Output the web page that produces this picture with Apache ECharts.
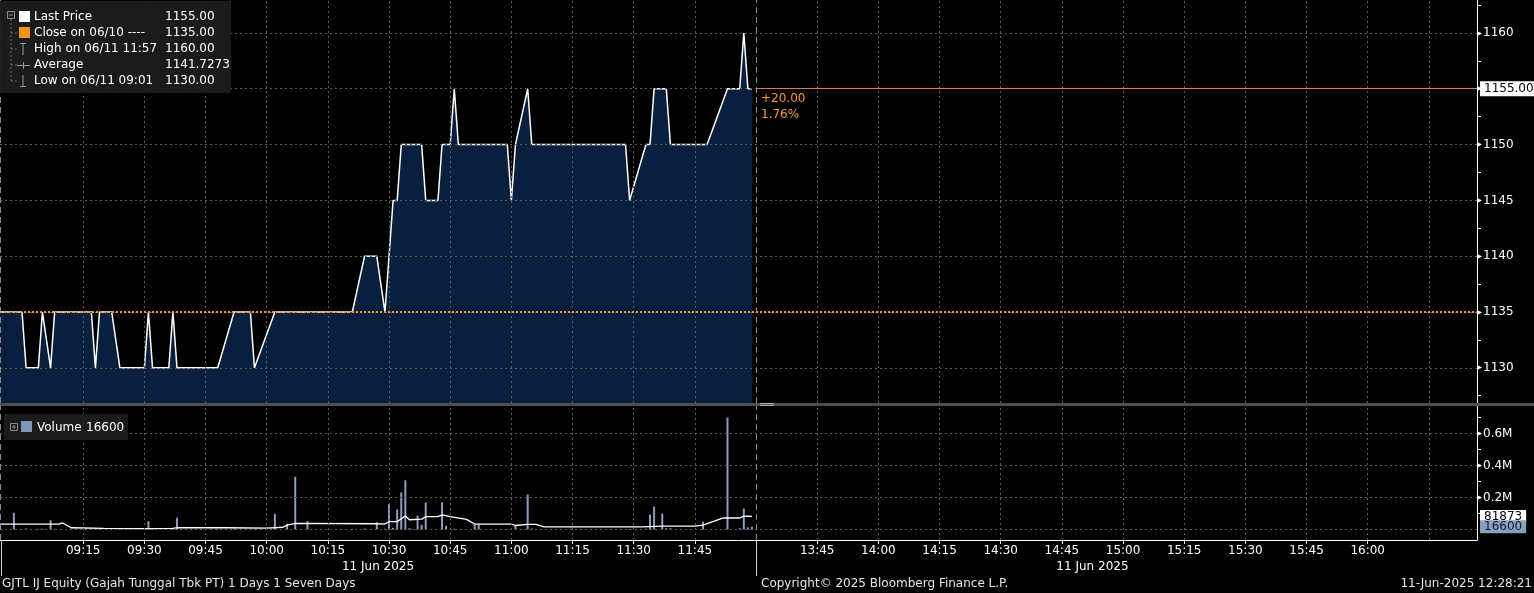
<!DOCTYPE html>
<html><head><meta charset="utf-8">
<script src="https://cdn.jsdelivr.net/npm/echarts@6/dist/echarts.min.js"></script>
<style>html,body{margin:0;padding:0;background:#000;}#c{width:1534px;height:593px;}</style>
</head><body><div id="c"></div><script>
// ---------- DATA ----------
const priceTimes = ['08:54','09:00','09:01','09:04','09:05','09:07','09:08','09:17','09:18','09:19','09:22','09:24','09:30','09:31','09:32','09:36','09:37','09:38','09:48','09:52','09:56','09:57','10:02','10:21','10:24','10:27','10:29','10:31','10:32','10:33','10:38','10:39','10:42','10:43','10:45','10:46','10:47','10:59','11:00','11:01','11:04','11:05','11:28','11:29','11:33','11:34','11:35','11:38','11:39','11:48','11:53','11:56','11:57','11:58','11:59'];
const priceValues = [1135,1135,1130,1130,1135,1130,1135,1135,1130,1135,1135,1130,1130,1135,1130,1130,1135,1130,1130,1135,1135,1130,1135,1135,1140,1140,1135,1145,1145,1150,1150,1145,1145,1150,1150,1155,1150,1150,1145,1150,1155,1150,1150,1145,1150,1150,1155,1155,1150,1150,1155,1155,1160,1155,1155];

const volumeTimes = ['08:58','09:01','09:04','09:05','09:07','09:08','09:17','09:18','09:19','09:24','09:31','09:32','09:37','09:38','09:48','09:52','09:57','10:02','10:05','10:07','10:10','10:21','10:24','10:27','10:29','10:30','10:31','10:32','10:33','10:34','10:35','10:36','10:37','10:38','10:39','10:43','10:44','10:46','10:51','10:52','10:59','11:01','11:04','11:05','11:29','11:33','11:34','11:35','11:37','11:38','11:39','11:47','11:53','11:56','11:57','11:58','11:59'];
const volumeValues = [104000,6000,4000,5000,58000,4000,3000,5000,3000,4000,52000,3000,4000,73000,3000,5000,4000,98000,35000,329000,52000,4000,6000,45000,5000,158000,10000,125000,232000,308000,8000,3000,87000,30000,169000,169000,23000,5000,32000,32000,4000,23000,219000,6000,4000,5000,93000,143000,99000,8000,8000,49000,700000,8000,131000,13000,16600];

const volAvgTimes = ['08:54','09:09','09:10','09:12','09:20','09:30','09:37','09:38','09:50','10:00','10:04','10:05','10:07','10:27','10:29','10:30','10:32','10:34','10:35','10:38','10:39','10:42','10:43','10:45','10:49','10:51','11:00','11:01','11:04','11:06','11:08','11:32','11:37','11:45','11:47','11:52','11:56','11:57','11:59'];
const volAvgValues = [33000,33000,41000,11000,7000,6000,7000,12000,11000,9000,14000,27000,38000,36000,34000,49000,49000,84000,61000,65000,80000,80000,91000,80000,63000,34000,34000,25000,32000,32000,16000,16000,21000,21000,27000,72000,72000,84000,81873];

const timeLabels = ['09:15','09:30','09:45','10:00','10:15','10:30','10:45','11:00','11:15','11:30','11:45','13:45','14:00','14:15','14:30','14:45','15:00','15:15','15:30','15:45','16:00'];
const timeGrid = ['09:15','09:30','09:45','10:00','10:15','10:30','10:45','11:00','11:15','11:30','11:45','13:45','14:00','14:15','14:30','14:45','15:00','15:15','15:30','15:45','16:00','16:15'];
const sessionBreak = '13:30';
const sessionEnd = '16:15';
const priceTicks = [1130,1135,1140,1145,1150,1155,1160];
const priceMinorTicks = [1127.5,1132.5,1137.5,1142.5,1147.5,1152.5,1157.5,1162.5];
const volumeTicks = [200000,400000,600000];
const volumeMinorTicks = [100000,300000,500000,700000];
const volumeGrid = [0,200000,400000,600000];

const legendNames = ['Last Price','Close on 06/10 ----','High on 06/11 11:57','Average','Low on 06/11 09:01'];
const legendValues = ['1155.00','1135.00','1160.00','1141.7273','1130.00'];
const lastPrice = 1155;
const prevClose = 1135;
const changeLabels = ['+20.00','1.76%'];
const lastVolume = 16600;
const lastVolAvg = 81873;
const dateLabel = '11 Jun 2025';
const footerLeft = 'GJTL IJ Equity (Gajah Tunggal Tbk PT) 1 Days 1 Seven Days';
const footerMid = 'Copyright\u00A9 2025 Bloomberg Finance L.P.';
const footerRight = '11-Jun-2025 12:28:21';

// ---------- HELPERS ----------
function toAxis(hhmm){
  const p = hhmm.split(':').map(Number);
  const m = p[0]*60 + p[1];
  if (m >= 13*60+30) return 180 + m - (13*60+30);
  return m - 9*60;
}
function fromAxis(v){
  let m = v >= 180 ? (13*60+30) + (v-180) : 9*60 + v;
  m = Math.round(m);
  const h = Math.floor(m/60), mm = m%60;
  return (h<10?'0':'')+h+':'+(mm<10?'0':'')+mm;
}
const zip = (ts, vs) => ts.map((t,i)=>[toAxis(t), vs[i]]);

const X_MIN = -5.4, X_MAX = 356.8;
const BREAK = toAxis(sessionBreak);
const FONT = 'DejaVu Sans';
const GRID_COLOR = '#5c5c5c';
const ORANGE = '#f39a2b';
const VOL_COLOR = '#8b9ec0';

const vGridLines = timeGrid.map(t => ({xAxis: toAxis(t)}));
const sepLines = [
  {xAxis: X_MIN + 0.1, lineStyle:{type:[6,4], color:'#8a8a8a', width:1}},
  {xAxis: BREAK, lineStyle:{type:[6,4], color:'#8a8a8a', width:1}}
];

const chart = echarts.init(document.getElementById('c'), null, {renderer:'canvas'});

// legend graphics
const g = [];
g.push({type:'rect', shape:{x:0,y:1,width:231,height:92}, style:{fill:'rgba(28,28,28,0.95)'}, z:100});
const rowY = [17,33,49,65,81];
legendNames.forEach((n,i)=>{
  g.push({type:'text', x:34, y:rowY[i], style:{text:n, fill:'#ffffff', font:'12px '+FONT, textVerticalAlign:'middle'}, z:101});
  g.push({type:'text', x:165, y:rowY[i], style:{text:legendValues[i], fill:'#ffffff', font:'12px '+FONT, textVerticalAlign:'middle'}, z:101});
});
// tree
g.push({type:'rect', shape:{x:7.5,y:11.5,width:7,height:7}, style:{fill:'none', stroke:'#8a8a8a', lineWidth:1}, z:101});
g.push({type:'line', shape:{x1:9,y1:15,x2:13,y2:15}, style:{stroke:'#8a8a8a', lineWidth:1}, z:101});
g.push({type:'line', shape:{x1:11,y1:19,x2:11,y2:81}, style:{stroke:'#6a6a6a', lineWidth:1, lineDash:[2,2]}, z:101});
rowY.slice(1).forEach(y=>g.push({type:'line', shape:{x1:11,y1:y,x2:17,y2:y}, style:{stroke:'#6a6a6a', lineWidth:1, lineDash:[2,2]}, z:101}));
g.push({type:'rect', shape:{x:19,y:11,width:11,height:11}, style:{fill:'#ffffff'}, z:101});
g.push({type:'rect', shape:{x:19,y:27,width:11,height:11}, style:{fill:'#f7941d'}, z:101});
g.push({type:'line', shape:{x1:20,y1:43.5,x2:26,y2:43.5}, style:{stroke:'#9a9a9a', lineWidth:1}, z:101});
g.push({type:'line', shape:{x1:23,y1:43,x2:23,y2:55}, style:{stroke:'#9a9a9a', lineWidth:1}, z:101});
g.push({type:'line', shape:{x1:17,y1:65.5,x2:30,y2:65.5}, style:{stroke:'#9a9a9a', lineWidth:1}, z:101});
g.push({type:'line', shape:{x1:23.5,y1:62,x2:23.5,y2:69}, style:{stroke:'#9a9a9a', lineWidth:1}, z:101});
g.push({type:'line', shape:{x1:23,y1:75,x2:23,y2:87}, style:{stroke:'#9a9a9a', lineWidth:1}, z:101});
g.push({type:'line', shape:{x1:20,y1:86.5,x2:26,y2:86.5}, style:{stroke:'#9a9a9a', lineWidth:1}, z:101});
// volume legend
g.push({type:'rect', shape:{x:4,y:414,width:124,height:26}, style:{fill:'rgba(28,28,28,0.95)'}, z:100});
g.push({type:'rect', shape:{x:10.5,y:423.5,width:7,height:7}, style:{fill:'none', stroke:'#8a8a8a', lineWidth:1}, z:101});
g.push({type:'line', shape:{x1:12,y1:427,x2:16,y2:427}, style:{stroke:'#8a8a8a', lineWidth:1}, z:101});
g.push({type:'line', shape:{x1:14,y1:425,x2:14,y2:429}, style:{stroke:'#8a8a8a', lineWidth:1}, z:101});
g.push({type:'rect', shape:{x:21,y:421,width:11,height:11}, style:{fill:'#8097b8'}, z:101});
g.push({type:'text', x:37, y:428, style:{text:'Volume', fill:'#ffffff', font:'12px '+FONT, textVerticalAlign:'middle'}, z:101});
g.push({type:'text', x:86, y:428, style:{text:String(lastVolume), fill:'#ffffff', font:'12px '+FONT, textVerticalAlign:'middle'}, z:101});
// panel divider
g.push({type:'rect', shape:{x:0,y:403,width:1534,height:3}, style:{fill:'#505050'}, z:50});
g.push({type:'line', shape:{x1:760,y1:403.5,x2:774,y2:403.5}, style:{stroke:'#b0b0b0', lineWidth:1}, z:51});
g.push({type:'line', shape:{x1:760,y1:405.5,x2:774,y2:405.5}, style:{stroke:'#b0b0b0', lineWidth:1}, z:51});
// footer
g.push({type:'text', x:2, y:584, style:{text:footerLeft, fill:'#e6e6e6', font:'12px '+FONT, textVerticalAlign:'middle'}, z:101});
g.push({type:'text', x:761, y:584, style:{text:footerMid, fill:'#e6e6e6', font:'12px '+FONT, textVerticalAlign:'middle'}, z:101});
g.push({type:'text', x:1532, y:584, style:{text:footerRight, fill:'#e6e6e6', font:'12px '+FONT, textAlign:'right', textVerticalAlign:'middle'}, z:101});

const yLabelRich = {a:{fontSize:10, color:'#ffffff', padding:[0,1,0,0], fontFamily:FONT}, b:{fontSize:12, color:'#ffffff', fontFamily:FONT}};

const option = {
  backgroundColor:'#000000',
  animation:false,
  textStyle:{fontFamily:FONT},
  graphic: g,
  grid:[
    {left:0, right:57, top:0, height:403},
    {left:0, right:57, top:406, height:134}
  ],
  xAxis:[
    {gridIndex:0, type:'value', min:X_MIN, max:X_MAX, show:false},
    {gridIndex:1, type:'value', min:X_MIN, max:X_MAX, position:'bottom',
     axisLine:{show:true, onZero:false, lineStyle:{color:'#ffffff', width:1}},
     axisTick:{show:true, customValues: timeLabels.map(toAxis), length:4, lineStyle:{color:'#ffffff'}},
     axisLabel:{show:true, customValues: timeLabels.map(toAxis), formatter: v=>fromAxis(v), color:'#ffffff', fontSize:12, margin:5, fontFamily:FONT},
     splitLine:{show:false}},
    {gridIndex:1, type:'value', min:X_MIN, max:X_MAX, position:'bottom',
     axisLine:{show:false, onZero:false},
     axisTick:{show:true, customValues:[X_MIN+0.2, BREAK], length:36, lineStyle:{color:'#d0d0d0'}},
     axisLabel:{show:true, customValues:[(X_MIN+BREAK)/2, (BREAK+toAxis(sessionEnd))/2], formatter:()=>dateLabel, color:'#ffffff', fontSize:12, margin:21, fontFamily:FONT},
     splitLine:{show:false}}
  ],
  yAxis:[
    {gridIndex:0, type:'value', position:'right', min:1126.85, max:1162.95,
     axisLine:{show:true, onZero:false, lineStyle:{color:'#ffffff'}},
     axisTick:{show:true, customValues:priceMinorTicks, length:4, lineStyle:{color:'#ffffff'}},
     axisLabel:{show:true, customValues:priceTicks, margin:0, formatter:v=>'{a|\u25B8}{b|'+v+'}', rich:yLabelRich},
     splitLine:{show:false}},
    {gridIndex:1, type:'value', position:'right', min:-65625, max:771875,
     axisLine:{show:true, onZero:false, lineStyle:{color:'#ffffff'}},
     axisTick:{show:true, customValues:volumeMinorTicks, length:4, lineStyle:{color:'#ffffff'}},
     axisLabel:{show:true, customValues:volumeTicks, margin:0, formatter:v=>'{a|\u25B8}{b|'+(v/1e6)+'M}', rich:yLabelRich},
     splitLine:{show:false}}
  ],
  series:[
    {type:'line', name:'Last Price', xAxisIndex:0, yAxisIndex:0, data:zip(priceTimes, priceValues),
     symbol:'none', lineStyle:{color:'#ffffff', width:1.5}, areaStyle:{color:'#08203d', opacity:1, origin:'start'},
     markLine:{silent:true, symbol:'none', label:{show:false}, lineStyle:{color:GRID_COLOR, type:[2,3], width:1},
       data:[
         ...priceTicks.map(v=>({yAxis:v})),
         ...vGridLines,
         ...sepLines,
         {yAxis:prevClose, lineStyle:{color:ORANGE, type:[2,2], width:2}},
         [{coord:[BREAK, lastPrice], lineStyle:{color:'#e8775a', type:'solid', width:1},
           label:{show:true, position:'end', distance:3, formatter:lastPrice.toFixed(2), backgroundColor:'#ffffff', color:'#000000', padding:[2,4,1,4], fontSize:12, fontFamily:FONT}},
          {coord:[X_MAX, lastPrice]}]
       ]},
     markPoint:{silent:true, symbol:'circle', symbolSize:0,
       data:[{coord:[BREAK, lastPrice], label:{show:true, position:[5,2], formatter:changeLabels.join('\n'), color:ORANGE, fontSize:12, lineHeight:16, fontFamily:FONT, align:'left', verticalAlign:'top'}}]}
    },
    {type:'bar', name:'Volume', xAxisIndex:1, yAxisIndex:1, data:zip(volumeTimes, volumeValues),
     barWidth:2, itemStyle:{color:VOL_COLOR},
     markLine:{silent:true, symbol:'none', label:{show:false}, lineStyle:{color:GRID_COLOR, type:[2,3], width:1},
       data:[
         ...volumeGrid.map(v=>({yAxis:v})),
         ...vGridLines,
         ...sepLines,
         {yAxis:lastVolAvg, lineStyle:{color:'rgba(0,0,0,0)', width:1, type:'solid'}, label:{show:true, position:'end', distance:3, formatter:String(lastVolAvg), backgroundColor:'#ffffff', color:'#000000', padding:[1,4,0,4], fontSize:12, fontFamily:FONT}},
         {yAxis:lastVolume, lineStyle:{color:'rgba(0,0,0,0)', width:1, type:'solid'}, label:{show:true, position:'end', distance:3, formatter:String(lastVolume), backgroundColor:VOL_COLOR, color:'#0b1a33', padding:[1,4,0,4], fontSize:12, fontFamily:FONT}}
       ]}
    },
    {type:'line', name:'Volume Avg', xAxisIndex:1, yAxisIndex:1, data:zip(volAvgTimes, volAvgValues),
     symbol:'none', lineStyle:{color:'#ffffff', width:1.3}}
  ]
};
chart.setOption(option);
</script></body></html>
